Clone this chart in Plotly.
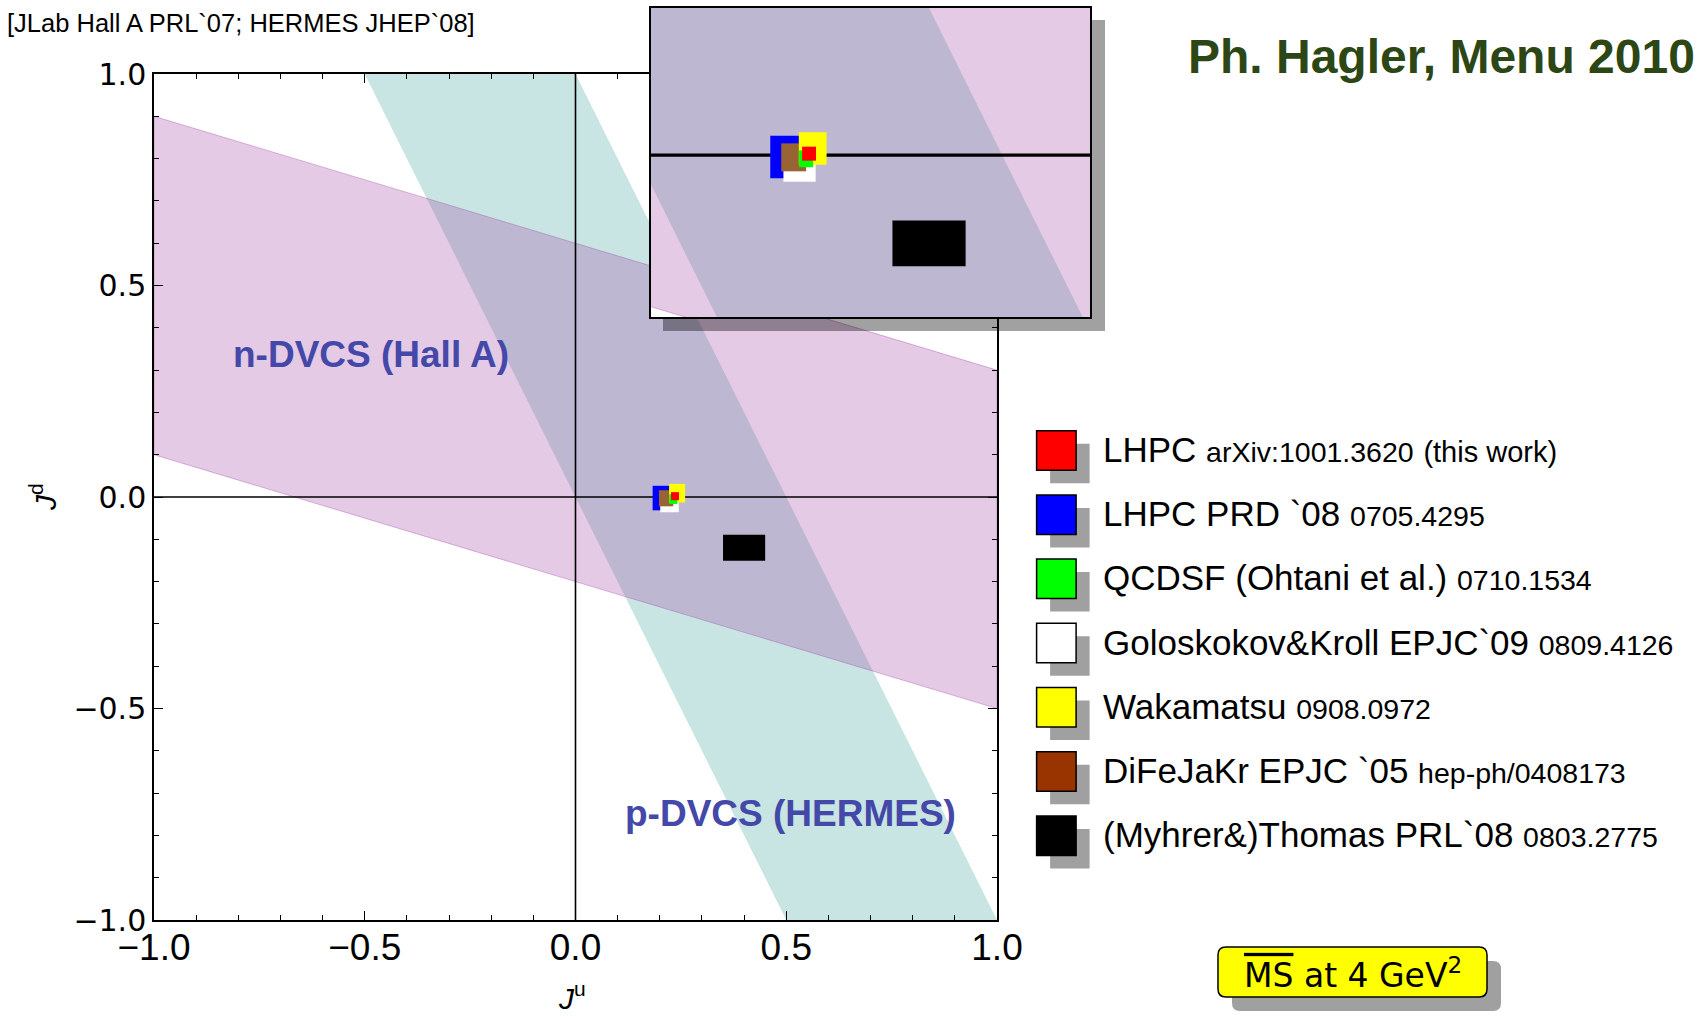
import plotly.graph_objects as go

W, H = 1702, 1016

# ---------------- data ----------------
SERIES = ["LHPC", "LHPC PRD `08", "QCDSF (Ohtani et al.)", "Goloskokov&Kroll EPJC`09",
          "Wakamatsu", "DiFeJaKr EPJC `05", "(Myhrer&)Thomas PRL`08"]
REFS = ["arXiv:1001.3620", "0705.4295", "0710.1534", "0809.4126",
        "0908.0972", "hep-ph/0408173", "0803.2775"]
NOTES = ["(this work)", "", "", "", "", "", ""]

J_U = [0.236, 0.210, 0.232, 0.223, 0.241, 0.215, 0.400]
J_U_ERR = [0.0095, 0.027, 0.0096, 0.022, 0.019, 0.017, 0.050]
J_D = [0.002, -0.0025, -0.005, -0.012, 0.009, -0.003, -0.120]
J_D_ERR = [0.0095, 0.029, 0.0114, 0.024, 0.022, 0.019, 0.031]

# n-DVCS (Hall A) band:  J_d = c + slope * J_u,  c in [low, high]
HALLA_SLOPE = -0.3
HALLA_LOW, HALLA_HIGH = -0.2, 0.6
# p-DVCS (HERMES) band:  J_u + coef * J_d in [low, high]
HERMES_COEF = 0.5
HERMES_LOW, HERMES_HIGH = 0.0, 0.5

AXIS_RANGE = [-1.0, 1.0]
TICK_VALS = [-1.0, -0.5, 0.0, 0.5, 1.0]
TICK_TEXT = ["\u22121.0", "\u22120.5", "0.0", "0.5", "1.0"]
MINOR_TICKS = [-0.9, -0.8, -0.7, -0.6, -0.4, -0.3, -0.2, -0.1,
               0.1, 0.2, 0.3, 0.4, 0.6, 0.7, 0.8, 0.9]
INSET_X = [0.02, 0.62]
INSET_Y = [-0.22, 0.20]

# ---------------- styles ----------------
BOX_COLORS = ["#ff0000", "#0000ff", "#00ff00", "#ffffff", "#ffff00", "#986434", "#000000"]
LEGEND_COLORS = ["#ff0000", "#0000ff", "#00ff00", "#ffffff", "#ffff00", "#993300", "#000000"]
DRAW_ORDER = [1, 3, 5, 4, 2, 0, 6]
TEAL = "rgb(200,229,227)"
PINK = "rgba(159,59,162,0.27)"
PINK_EDGE = "rgba(159,59,162,0.35)"
LABEL_BLUE = "#4448a8"


def px(x):
    return x / W


def py(y):
    return 1 - y / H


fig = go.Figure()


def add_content(xa, ya, axis_lw, show_vline):
    lo, hi = AXIS_RANGE
    # HERMES band (teal)
    hx = [HERMES_LOW - HERMES_COEF * hi, HERMES_HIGH - HERMES_COEF * hi,
          HERMES_HIGH - HERMES_COEF * lo, HERMES_LOW - HERMES_COEF * lo]
    hy = [hi, hi, lo, lo]
    fig.add_trace(go.Scatter(x=hx + [hx[0]], y=hy + [hy[0]], mode="lines", fill="toself",
                             fillcolor=TEAL, line=dict(width=0), xaxis=xa, yaxis=ya,
                             hoverinfo="skip", showlegend=False))
    # Hall A band (pink, translucent)
    ax_ = [lo, hi, hi, lo]
    ay_ = [HALLA_LOW + HALLA_SLOPE * lo, HALLA_LOW + HALLA_SLOPE * hi,
           HALLA_HIGH + HALLA_SLOPE * hi, HALLA_HIGH + HALLA_SLOPE * lo]
    fig.add_trace(go.Scatter(x=ax_ + [ax_[0]], y=ay_ + [ay_[0]], mode="lines", fill="toself",
                             fillcolor=PINK, line=dict(width=1, color=PINK_EDGE), xaxis=xa, yaxis=ya,
                             hoverinfo="skip", showlegend=False))
    # axes through origin
    fig.add_trace(go.Scatter(x=[lo, hi], y=[0, 0], mode="lines",
                             line=dict(color="black", width=axis_lw), xaxis=xa, yaxis=ya,
                             hoverinfo="skip", showlegend=False))
    if show_vline:
        fig.add_trace(go.Scatter(x=[0, 0], y=[lo, hi], mode="lines",
                                 line=dict(color="black", width=axis_lw), xaxis=xa, yaxis=ya,
                                 hoverinfo="skip", showlegend=False))
    # error boxes
    for i in DRAW_ORDER:
        x0, x1 = J_U[i] - J_U_ERR[i], J_U[i] + J_U_ERR[i]
        y0, y1 = J_D[i] - J_D_ERR[i], J_D[i] + J_D_ERR[i]
        fig.add_trace(go.Scatter(x=[x0, x1, x1, x0, x0], y=[y0, y0, y1, y1, y0], mode="lines",
                                 fill="toself", fillcolor=BOX_COLORS[i], line=dict(width=0),
                                 xaxis=xa, yaxis=ya, name=SERIES[i], showlegend=False))


add_content("x", "y", 1.6, True)
add_content("x2", "y2", 3.2, False)

main_axis = dict(range=AXIS_RANGE, showgrid=False, zeroline=False, showline=True, mirror="ticks",
                 linecolor="black", linewidth=1.5, ticks="inside", ticklen=9, tickwidth=1,
                 tickcolor="black", tickmode="array", tickvals=TICK_VALS, ticktext=TICK_TEXT,
                 minor=dict(tickmode="array", tickvals=MINOR_TICKS, ticks="inside", ticklen=5,
                            tickwidth=1, tickcolor="black"),
                 automargin=False)

fig.update_layout(
    width=W, height=H, margin=dict(l=0, r=0, t=0, b=0),
    paper_bgcolor="white", plot_bgcolor="white", showlegend=False,
    xaxis=dict(main_axis, domain=[px(154), px(997)], anchor="y", ticklabelstandoff=-6,
               tickfont=dict(family="Liberation Sans", size=37, color="black")),
    yaxis=dict(main_axis, domain=[py(920), py(74)], anchor="x",
               tickfont=dict(family="DejaVu Sans", size=30, color="black")),
    xaxis2=dict(range=INSET_X, domain=[px(651), px(1090)], anchor="y2", showgrid=False,
                zeroline=False, showline=True, mirror=True, linecolor="black", linewidth=2.2,
                ticks="", showticklabels=False),
    yaxis2=dict(range=INSET_Y, domain=[py(317), py(8)], anchor="x2", showgrid=False,
                zeroline=False, showline=True, mirror=True, linecolor="black", linewidth=2.2,
                ticks="", showticklabels=False),
)

shapes = []
# inset drop shadow (L-shaped, translucent)
sx0, sx1, sxr, sy0, sy1, syb = 663, 1090, 1105, 20, 317, 331
shapes.append(dict(type="path", xref="paper", yref="paper", layer="above",
                   path=f"M {px(sx1)},{py(sy0)} L {px(sxr)},{py(sy0)} L {px(sxr)},{py(syb)} "
                        f"L {px(sx0)},{py(syb)} L {px(sx0)},{py(sy1)} L {px(sx1)},{py(sy1)} Z",
                   fillcolor="rgba(0,0,0,0.37)", line=dict(width=0)))

annotations = []
# legend
ROW0, ROWSTEP = 430.7, 64.2
SQ_X0, SQ = 1036.6, 39.5
for i, name in enumerate(SERIES):
    top = ROW0 + ROWSTEP * i
    shapes.append(dict(type="rect", xref="paper", yref="paper", layer="above",
                       x0=px(SQ_X0 + 13.5), x1=px(SQ_X0 + 13.5 + SQ), y0=py(top + 13 + SQ), y1=py(top + 13),
                       fillcolor="#a0a0a0", line=dict(width=0)))
    shapes.append(dict(type="rect", xref="paper", yref="paper", layer="above",
                       x0=px(SQ_X0), x1=px(SQ_X0 + SQ), y0=py(top + SQ), y1=py(top),
                       fillcolor=LEGEND_COLORS[i], line=dict(width=1.5, color="black")))
    txt = f"{name} <span style='font-size:28.5px'>{REFS[i]}</span>"
    if NOTES[i]:
        txt += f" <span style='font-size:29px'>{NOTES[i]}</span>"
    annotations.append(dict(x=px(1101), y=py(top + SQ / 2 - 1), xref="paper", yref="paper",
                            xanchor="left", yanchor="middle", showarrow=False, text=txt,
                            font=dict(family="Liberation Sans", size=35, color="black")))


def rounded(x0, y0, x1, y1, r):
    return (f"M {px(x0 + r)},{py(y0)} L {px(x1 - r)},{py(y0)} Q {px(x1)},{py(y0)} {px(x1)},{py(y0 + r)} "
            f"L {px(x1)},{py(y1 - r)} Q {px(x1)},{py(y1)} {px(x1 - r)},{py(y1)} "
            f"L {px(x0 + r)},{py(y1)} Q {px(x0)},{py(y1)} {px(x0)},{py(y1 - r)} "
            f"L {px(x0)},{py(y0 + r)} Q {px(x0)},{py(y0)} {px(x0 + r)},{py(y0)} Z")


bx0, by0, bx1, by1 = 1218, 947, 1487, 997
shapes.append(dict(type="path", xref="paper", yref="paper", layer="above",
                   path=rounded(bx0 + 14, by0 + 14, bx1 + 14, by1 + 14, 8),
                   fillcolor="#a0a0a0", line=dict(width=0)))
shapes.append(dict(type="path", xref="paper", yref="paper", layer="above",
                   path=rounded(bx0, by0, bx1, by1, 8),
                   fillcolor="#ffff00", line=dict(width=1.5, color="black")))
annotations.append(dict(x=px((bx0 + bx1) / 2), y=py((by0 + by1) / 2 + 1), xref="paper", yref="paper",
                        xanchor="center", yanchor="middle", showarrow=False,
                        text="<span style='text-decoration:overline'>MS</span> at 4 GeV<sup>2</sup>",
                        font=dict(family="DejaVu Sans", size=33, color="black")))

# texts
annotations += [
    dict(x=px(5), y=py(23), xref="paper", yref="paper", xanchor="left", yanchor="middle",
         showarrow=False, text="[JLab Hall A PRL`07; HERMES JHEP`08]",
         font=dict(family="Liberation Sans", size=25.5, color="black")),
    dict(x=px(1441), y=py(56), xref="paper", yref="paper", xanchor="center", yanchor="middle",
         showarrow=False, text="<b>Ph. Hagler, Menu 2010</b>",
         font=dict(family="Liberation Sans", size=48, color="#2d4616")),
    dict(x=px(371), y=py(354), xref="paper", yref="paper", xanchor="center", yanchor="middle",
         showarrow=False, text="<b>n-DVCS (Hall A)</b>",
         font=dict(family="Liberation Sans", size=37, color=LABEL_BLUE)),
    dict(x=px(790), y=py(813), xref="paper", yref="paper", xanchor="center", yanchor="middle",
         showarrow=False, text="<b>p-DVCS (HERMES)</b>",
         font=dict(family="Liberation Sans", size=37, color=LABEL_BLUE)),
    dict(x=px(43), y=py(497), xref="paper", yref="paper", xanchor="center", yanchor="middle",
         showarrow=False, textangle=-90, text="<i>J</i><sup>d</sup>",
         font=dict(family="Liberation Sans", size=30, color="black")),
    dict(x=px(572), y=py(996), xref="paper", yref="paper", xanchor="center", yanchor="middle",
         showarrow=False, text="<i>J</i><sup>u</sup>",
         font=dict(family="Liberation Sans", size=30, color="black")),
]

fig.update_layout(shapes=shapes, annotations=annotations)
fig.write_html("out.html", config={"displayModeBar": False},
               post_script="document.body.style.margin='0px';")
